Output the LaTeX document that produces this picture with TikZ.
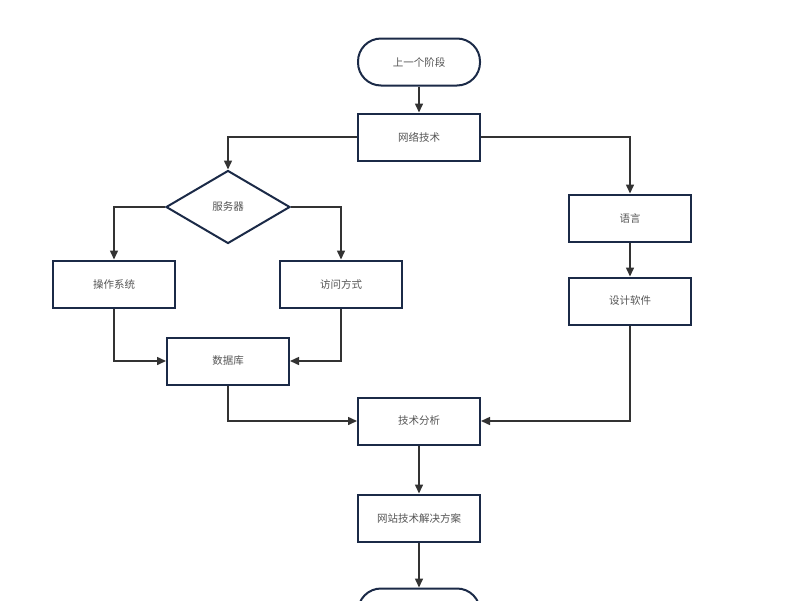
\documentclass[tikz,border=0pt]{standalone}
\usepackage{fontspec}
\newfontfamily\cjk{Noto Sans CJK SC}
\usetikzlibrary{arrows.meta,shapes.geometric}
\definecolor{rahmen}{HTML}{1B2A47}
\definecolor{linie}{HTML}{333333}
\definecolor{schrift}{HTML}{555555}
\begin{document}
\begin{tikzpicture}[x=1pt,y=-1pt,
  box/.style={draw=rahmen, line width=2pt, fill=white, minimum width=122pt, minimum height=47pt, text=schrift, font=\cjk\fontsize{10.5}{12}\selectfont},
  terminal/.style={box, rounded corners=23pt},
  decision/.style={box, diamond, minimum width=124pt, minimum height=73pt, inner sep=0pt},
  flow/.style={draw=linie, line width=1.5pt, -{Triangle[length=9pt,width=8pt]}}]
\useasboundingbox (0,0) rectangle (800,600);
\clip (0,0) rectangle (800,600);
% mittlere Spalte
\node[terminal] (start) at (419,62) {上一个阶段};
\node[box] (net) at (419,137) {网络技术};
% linker Zweig
\node[decision] (server) at (228,207) {服务器};
\node[box] (os) at (114,284) {操作系统};
\node[box] (access) at (341,284) {访问方式};
\node[box] (db) at (228,361) {数据库};
% rechter Zweig
\node[box] (lang) at (630,218) {语言};
\node[box] (design) at (630,301) {设计软件};
% unten
\node[box] (analysis) at (419,421) {技术分析};
\node[box] (solution) at (419,518) {网站技术解决方案};
\node[terminal] (end) at (419,612) {};
\draw[flow] (start) -- (net);
\draw[flow] (net.west) -| (server.north);
\draw[flow] (net.east) -| (lang.north);
\draw[flow] (server.west) -| (os.north);
\draw[flow] (server.east) -| (access.north);
\draw[flow] (os.south) |- (db.west);
\draw[flow] (access.south) |- (db.east);
\draw[flow] (db.south) |- (analysis.west);
\draw[flow] (lang) -- (design);
\draw[flow] (design.south) |- (analysis.east);
\draw[flow] (analysis) -- (solution);
\draw[flow] (solution) -- (end);
\end{tikzpicture}
\end{document}
